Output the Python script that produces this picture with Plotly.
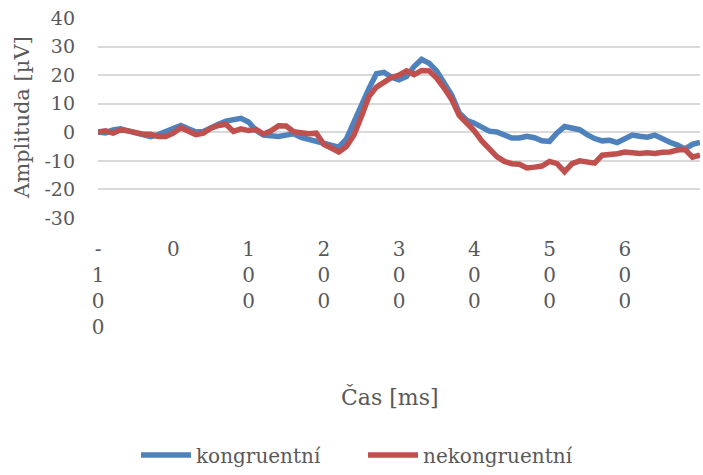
import plotly.graph_objects as go

time_ms = list(range(-100, 701, 10))

kongruentni = [
    0.1, -0.2, 0.8, 1.2, 0.5, -0.2, -1.2, -1.5, -0.8, 0.2,
    1.0, 2.4, 1.2, 0.2, 0.3, 1.8, 2.8, 3.9, 4.4, 4.9,
    3.6, 0.7, -1.0, -1.3, -1.5, -1.0, -0.5, -1.8, -2.5, -2.8,
    -3.6, -4.5, -5.2, -2.4, 3.8, 10.0, 15.3, 20.5, 21.0, 19.3,
    18.4, 19.5, 23.0, 25.5, 24.2, 21.5, 17.5, 13.0, 6.8, 4.2,
    3.2, 1.8, 0.4, 0.1, -1.0, -2.0, -2.0, -1.4, -1.9, -3.0,
    -3.2, -0.2, 2.0, 1.3, 0.9, -0.8, -2.2, -3.0, -2.8, -3.6,
    -2.2, -1.0, -1.4, -1.7, -1.0, -2.5, -3.5, -4.5, -5.8, -4.2,
    -3.5,
]

nekongruentni = [
    0.1, 0.5, -0.3, 0.8, 0.5, 0.0, -0.7, -0.7, -1.5, -1.5,
    -0.3, 1.6, 0.5, -0.8, -0.3, 1.4, 2.4, 2.8, 0.3, 1.2,
    0.6, 1.0, -0.6, 0.5, 2.3, 2.2, 0.2, -0.3, -0.5, -0.3,
    -4.2, -5.5, -6.9, -5.0, -1.0, 5.5, 12.5, 15.8, 17.8, 19.2,
    20.0, 21.5, 20.2, 21.6, 21.5, 19.0, 15.5, 11.5, 5.9, 3.2,
    0.5, -3.0, -5.8, -8.5, -10.2, -11.0, -11.2, -12.5, -12.2, -11.8,
    -10.2, -11.0, -13.8, -11.0, -10.0, -10.5, -10.8, -8.0, -7.8, -7.5,
    -6.9, -7.2, -7.4, -7.2, -7.4, -7.0, -6.9, -6.2, -6.0, -8.7,
    -8.0,
]

x_tick_vals = [-100, 0, 100, 200, 300, 400, 500, 600]
x_tick_text = ["<br>".join(str(v)) for v in x_tick_vals]
y_tick_vals = [-30, -20, -10, 0, 10, 20, 30, 40]
y_tick_text = [str(v) for v in y_tick_vals]

BLUE = "#4F81BD"
RED = "#C0504D"
GRAY_TEXT = "#595959"
SERIF = "DejaVu Serif, Liberation Serif, serif"

fig = go.Figure()
fig.add_trace(go.Scatter(x=time_ms, y=kongruentni, mode="lines", name="kongruentní",
                         line=dict(color=BLUE, width=5.5)))
fig.add_trace(go.Scatter(x=time_ms, y=nekongruentni, mode="lines", name="nekongruentní",
                         line=dict(color=RED, width=5.5)))

fig.update_layout(
    width=703, height=475,
    margin=dict(l=98, r=3, t=17.5, b=257),
    paper_bgcolor="white", plot_bgcolor="white",
    showlegend=True,
    legend=dict(orientation="h", xref="container", yref="container",
                x=136 / 703, xanchor="left", y=0.042, yanchor="middle",
                font=dict(family=SERIF, size=20, color=GRAY_TEXT),
                entrywidth=162, entrywidthmode="pixels",
                itemwidth=50, traceorder="normal"),
    xaxis=dict(range=[-100, 700], tickmode="array", tickvals=x_tick_vals,
               ticktext=x_tick_text, showgrid=False, zeroline=False, showline=False,
               ticks="", ticklabelstandoff=17,
               tickfont=dict(family=SERIF, size=20, color=GRAY_TEXT)),
    yaxis=dict(range=[-30, 40], tickmode="array", tickvals=y_tick_vals,
               ticktext=y_tick_text,
               showgrid=True, gridcolor="#D9D9D9", gridwidth=1.5, zeroline=False,
               showline=False, ticks="", ticklabelstandoff=22,
               tickfont=dict(family=SERIF, size=19, color=GRAY_TEXT)),
    annotations=[
        dict(text="Čas [ms]", xref="paper", yref="paper", x=(390 - 98) / 602,
             y=(218 - 397) / 200.5,
             xanchor="center", yanchor="middle", showarrow=False,
             font=dict(family=SERIF, size=22, color=GRAY_TEXT)),
        dict(text="Amplituda [µV]", xref="paper", yref="paper", x=(22 - 98) / 602, y=0.5,
             xanchor="center", yanchor="middle", showarrow=False, textangle=-90,
             font=dict(family=SERIF, size=21, color=GRAY_TEXT)),
    ],
)

fig.write_html("out.html")
